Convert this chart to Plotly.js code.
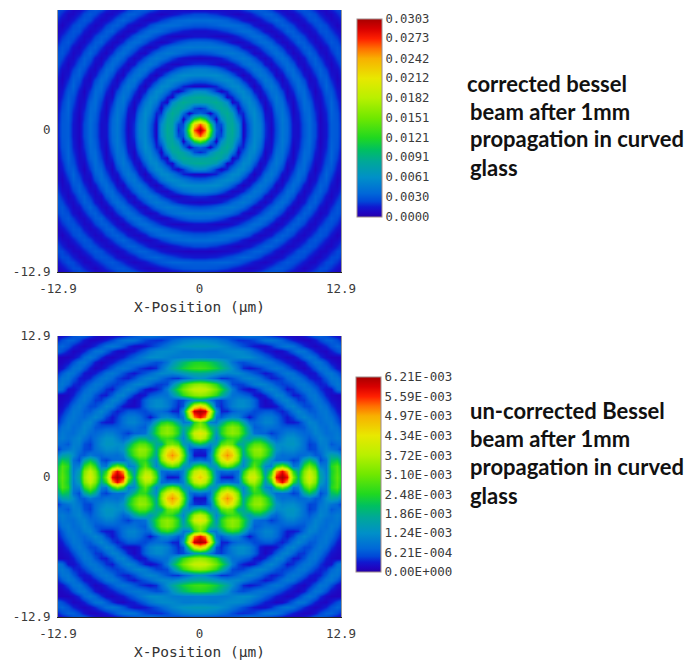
<!DOCTYPE html>
<html><head><meta charset="utf-8">
<script src="https://cdn.plot.ly/plotly-3.0.1.min.js"></script>
<style>html,body{margin:0;padding:0;background:#fff}#c{width:698px;height:660px}</style>
</head><body><div id="c"></div>
<script>
// distance from the beam axis in µm, one quadrant
const positions=[0,.5,1,1.5,2,2.5,3,3.5,4,4.5,5,5.5,6,6.5,7,7.5,8,8.5,9,9.5,10,10.5,11,11.5,12,12.5,13];
// corrected beam, intensity in units of 1e-4 (upper triangle of one quadrant)
const correctedRows=[
[303,262,145,35,18,78,87,60,8,32,56,50,20,8,26,45,37,12,11,30,38,25,7,14,32,30,13],
[222,115,25,26,80,85,57,8,34,56,49,19,9,27,45,36,12,11,30,38,25,7,14,32,30,13],
[50,6,58,83,81,42,12,39,57,45,16,10,29,46,35,10,13,32,39,22,6,16,33,29,12],
[40,78,88,72,20,17,48,58,39,12,12,34,45,30,8,15,34,37,20,7,17,34,28,11],
[87,79,48,8,30,54,54,30,8,16,39,43,25,7,19,37,36,16,8,20,35,25,9],
[57,9,19,46,57,45,18,8,24,44,39,18,8,23,39,33,12,9,24,35,22,8],
[16,39,56,53,31,9,13,34,46,33,11,11,29,39,27,9,11,27,33,18,6],
[55,56,39,15,9,23,42,41,24,7,18,35,37,21,6,15,32,30,14,8],
[41,19,6,16,36,46,35,12,10,25,39,33,13,9,21,35,25,10,10],
[7,13,31,45,39,21,7,17,34,39,25,8,12,28,33,19,7,13],
[29,44,41,27,9,11,27,39,33,14,8,19,33,29,13,8,19],
[42,30,12,9,22,37,37,22,8,12,27,34,22,9,11,24],
[13,8,19,33,39,29,11,9,20,33,29,14,7,17,29],
[18,32,40,33,15,7,14,29,33,21,9,11,24,30],
[40,34,19,7,11,25,35,26,12,8,18,29,27],
[20,8,10,21,33,30,16,7,12,25,29,22],
[9,20,33,31,20,9,10,21,30,25,15],
[32,32,22,10,9,18,28,27,19,9],
[22,11,8,15,27,29,22,12,7],
[8,14,25,30,24,14,6,12],
[25,30,25,15,8,10,19],
[25,16,8,8,17,25],
[8,8,16,24,25],
[16,24,25,19],
[26,20,12],
[12,6],
[8]];
// un-corrected beam, intensity in units of 1e-5 (one quadrant, y=0 first)
const uncorrectedRows=[
[465,420,294,114,34,25,31,95,279,399,407,311,174,325,575,621,575,325,202,343,415,343,165,105,239,295,239],
[415,370,254,103,74,85,74,80,231,349,360,275,136,253,500,580,500,255,174,323,387,323,149,98,231,287,231],
[276,240,130,135,260,305,270,178,110,225,295,219,113,100,255,319,250,88,103,255,319,255,103,95,245,285,206],
[83,70,92,265,400,460,420,310,120,190,257,252,197,121,78,82,75,45,60,166,215,159,53,84,204,225,156],
[24,25,110,305,450,515,470,330,170,250,315,322,276,198,103,81,87,87,73,79,97,64,67,119,164,152,95],
[36,42,78,260,400,460,420,290,180,285,335,342,292,223,135,110,117,119,103,81,48,52,88,108,89,73,37],
[212,175,111,150,285,320,300,180,170,240,289,292,253,180,118,121,131,133,117,82,44,56,101,101,62,76,80],
[389,347,233,110,187,253,272,253,187,140,187,193,154,90,70,103,125,127,110,83,62,85,110,96,84,98,85],
[431,393,271,137,246,315,338,315,246,160,84,72,69,43,59,81,101,103,86,73,76,105,100,80,84,95,71],
[342,298,206,164,233,305,332,305,233,135,66,72,87,84,77,67,66,63,58,63,94,109,88,78,96,85,48],
[315,246,103,93,167,233,256,233,167,82,72,91,108,106,84,51,30,30,38,77,109,99,77,88,94,63,30],
[575,520,340,90,64,99,120,108,61,28,52,83,99,98,78,44,29,49,88,110,94,72,80,94,83,50,26],
[621,600,430,139,34,35,63,81,81,68,50,55,63,63,45,33,49,88,110,88,63,67,88,92,63,33,19],
[470,410,245,58,37,65,101,118,120,104,72,31,18,18,28,57,96,109,81,51,51,77,95,77,44,23,15],
[165,145,95,50,44,72,94,114,115,100,70,29,15,32,64,101,106,72,43,43,70,94,83,50,26,18,15],
[340,328,300,255,190,128,86,85,73,59,31,20,37,72,106,101,64,32,33,57,88,92,63,33,19,15,15],
[395,387,357,311,251,178,99,48,32,20,31,59,93,110,93,59,31,40,64,89,93,69,41,23,26,77,95],
[340,328,300,255,190,115,52,45,48,73,97,110,104,82,58,45,49,66,90,93,72,45,32,38,70,94,83],
[125,115,90,65,41,44,58,78,101,110,101,78,53,33,36,49,77,94,87,61,36,26,33,63,92,88,57],
[176,171,161,142,125,110,115,115,100,77,58,42,29,38,55,82,95,82,55,32,21,29,57,88,92,63,33],
[272,267,254,231,202,166,124,80,38,28,34,44,63,82,92,82,61,38,23,14,30,60,89,85,54,26,15],
[245,240,225,200,170,130,88,60,54,67,81,93,92,82,64,45,30,20,13,30,60,89,85,54,26,15,12],
[105,103,100,100,97,99,107,115,120,119,106,87,67,47,32,22,14,20,41,74,92,74,41,20,12,12,14],
[100,99,97,97,107,115,117,116,109,91,67,47,32,24,14,20,38,66,90,86,61,33,18,14,31,53,70],
[142,141,137,132,122,110,92,72,54,40,30,22,23,38,61,82,92,82,61,38,23,14,20,35,57,72,65],
[112,111,107,100,87,72,54,40,39,42,49,69,86,92,86,69,49,32,21,14,14,28,49,68,70,53,31],
[46,46,44,42,40,50,60,75,86,92,86,71,53,36,25,18,13,12,14,28,49,68,70,53,31,19,13]];
const colorStops=[[0,'#2400a8'],[.02,'#2004c0'],[.05,'#1018d0'],[.08,'#0048d8'],[.12,'#0068d8'],[.2,'#0090c8'],[.28,'#00a898'],[.34,'#00c060'],[.4,'#20d820'],[.5,'#70e800'],[.6,'#b8f000'],[.7,'#e8e800'],[.8,'#f8b000'],[.85,'#ff7000'],[.9,'#ff2000'],[.95,'#d80000'],[1,'#a80000']];
const topTicks=[0,.0030,.0061,.0091,.0121,.0151,.0182,.0212,.0242,.0273,.0303];
const topTickText=['0.0000','0.0030','0.0061','0.0091','0.0121','0.0151','0.0182','0.0212','0.0242','0.0273','0.0303'];
const bottomTicks=[0,.000621,.00124,.00186,.00248,.0031,.00372,.00434,.00497,.00559,.00621];
const bottomTickText=['0.00E+000','6.21E-004','1.24E-003','1.86E-003','2.48E-003','3.10E-003','3.72E-003','4.34E-003','4.97E-003','5.59E-003','6.21E-003'];
const axisTicks=[-12.9,0,12.9];
const axisTickText=['-12.9','0','12.9'];
const captionTop=['corrected bessel','beam after 1mm','propagation in curved','glass'];
const captionBottom=['un-corrected Bessel','beam after 1mm','propagation in curved','glass'];

const W=698,H=660;
const flip=r=>r.slice(1).reverse().concat(r);
const mirrorAll=q=>{const m=q.map(flip);return m.slice(1).reverse().concat(m);};
const axisPos=flip(positions.map(p=>p)).map((p,i)=>i<26?-p:p);
const correctedQuad=positions.map((_,j)=>positions.map((_,i)=>i>=j?correctedRows[j][i-j]:correctedRows[i][j-i]));
const zTop=mirrorAll(correctedQuad).map(r=>r.map(v=>v*1e-4));
const zBottom=mirrorAll(uncorrectedRows).map(r=>r.map(v=>v*1e-5));
const mono=(s)=>({family:'"DejaVu Sans Mono",monospace',size:s,color:'#3a3a3a'});
const bar=(top,bottom,x,vals,text,s)=>({x:x/W,xanchor:'left',xref:'paper',xpad:0,ypad:0,
  y:1-top/H,yanchor:'top',yref:'paper',lenmode:'pixels',len:bottom-top,thicknessmode:'pixels',thickness:25,
  tickmode:'array',tickvals:vals,ticktext:text,ticks:'',tickfont:mono(s),outlinecolor:'#a08c8c',outlinewidth:1,borderwidth:0});
const data=[
 {type:'heatmap',x:axisPos,y:axisPos,z:zTop,zsmooth:'best',zmin:0,zmax:.0303,colorscale:colorStops,xaxis:'x',yaxis:'y',colorbar:bar(18.5,216,357,topTicks,topTickText,12.2)},
 {type:'heatmap',x:axisPos,y:axisPos,z:zBottom,zsmooth:'best',zmin:0,zmax:.00621,colorscale:colorStops,xaxis:'x2',yaxis:'y2',colorbar:bar(377,572,356,bottomTicks,bottomTickText,12.5)}
];
const xa=(dom,anchor)=>({domain:dom,anchor,range:[-12.9,12.9],tickmode:'array',tickvals:axisTicks,ticktext:axisTickText,ticks:'outside',ticklen:5,tickcolor:'rgba(0,0,0,0)',tickfont:mono(12.5),
  showgrid:false,zeroline:false,showline:true,linecolor:'#222',linewidth:1,
  title:{text:'X-Position (µm)',font:{family:'"DejaVu Sans Mono",monospace',size:14.5,color:'#333'},standoff:6}});
const ya=(dom,anchor,range)=>({domain:dom,anchor,range,tickmode:'array',tickvals:axisTicks,ticktext:axisTickText,ticks:'outside',ticklen:4,tickcolor:'rgba(0,0,0,0)',tickfont:mono(12.5),
  showgrid:false,zeroline:false,showline:true,linecolor:'#999',linewidth:1,mirror:true});
const cap=(t,x,y)=>({xref:'paper',yref:'paper',x:x/W,y:1-y/H,xanchor:'left',yanchor:'middle',showarrow:false,text:t,
  font:{family:'Lato,sans-serif',size:22,color:'#111',weight:700}});
const capsTop=[[465,84],[468,111],[468,139],[468,167]];
const capsBot=[[468,410],[468,438],[468,466],[468,495]];
const layout={width:W,height:H,margin:{l:0,r:0,t:0,b:0},paper_bgcolor:'#fff',plot_bgcolor:'#fff',showlegend:false,
 xaxis:xa([58/W,341/W],'y'),yaxis:ya([1-272/H,1-10/H],'x',[-12.9,10.9]),
 xaxis2:xa([58/W,341/W],'y2'),yaxis2:ya([1-617/H,1-336/H],'x2',[-12.9,12.9]),
 annotations:captionTop.map((t,i)=>cap(t,capsTop[i][0],capsTop[i][1])).concat(captionBottom.map((t,i)=>cap(t,capsBot[i][0],capsBot[i][1])))};
Plotly.newPlot('c',data,layout,{displayModeBar:false,responsive:false});
</script></body></html>
